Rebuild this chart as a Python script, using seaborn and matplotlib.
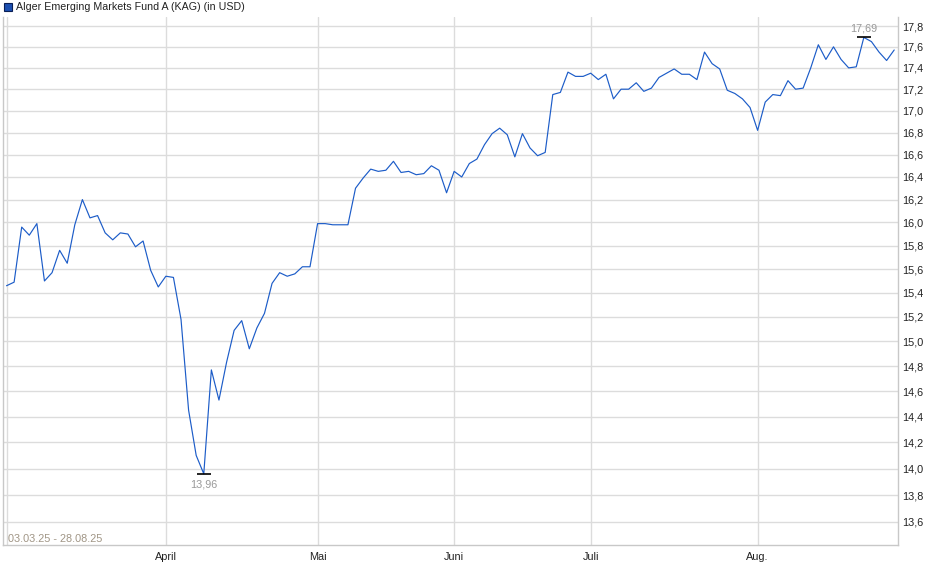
import numpy as np
import pandas as pd
import seaborn as sns
import matplotlib.pyplot as plt
from matplotlib.patches import Rectangle
from matplotlib.ticker import FixedLocator, NullLocator

sns.set_style('white')
plt.rcParams['font.family'] = ['Liberation Sans', 'DejaVu Sans']

fund_name = 'Alger Emerging Markets Fund A (KAG) (in USD)'
date_range = '03.03.25 - 28.08.25'

# daily prices (USD), 03.03.25 - 28.08.25
prices = [
    15.46, 15.49, 15.96, 15.89, 15.99, 15.50, 15.57, 15.76, 15.65, 15.98,
    16.20, 16.04, 16.06, 15.91, 15.85, 15.91, 15.90, 15.79, 15.84, 15.59,
    15.45, 15.54, 15.53, 15.18, 14.45, 14.10, 13.96, 14.77, 14.53, 14.83,
    15.09, 15.17, 14.94, 15.11, 15.23, 15.48, 15.57, 15.54, 15.56, 15.62,
    15.62, 15.99, 15.99, 15.98, 15.98, 15.98, 16.30, 16.39, 16.47, 16.45,
    16.46, 16.54, 16.44, 16.45, 16.42, 16.43, 16.50, 16.46, 16.26, 16.45,
    16.40, 16.52, 16.56, 16.69, 16.79, 16.84, 16.78, 16.58, 16.79, 16.66,
    16.59, 16.62, 17.15, 17.17, 17.36, 17.32, 17.32, 17.35, 17.29, 17.34,
    17.11, 17.20, 17.20, 17.26, 17.18, 17.21, 17.31, 17.35, 17.39, 17.34,
    17.34, 17.29, 17.55, 17.44, 17.39, 17.19, 17.16, 17.11, 17.03, 16.82,
    17.08, 17.15, 17.14, 17.28, 17.20, 17.21, 17.40, 17.62, 17.48, 17.60,
    17.48, 17.40, 17.41, 17.69, 17.65, 17.55, 17.47, 17.57,
]

# first trading day of each month (index into prices)
month_idx = [0, 21, 41, 59, 77, 99]
month_labels = ['', 'April', 'Mai', 'Juni', 'Juli', 'Aug.']

y_ticks = [13.6, 13.8, 14.0, 14.2, 14.4, 14.6, 14.8, 15.0, 15.2, 15.4, 15.6,
           15.8, 16.0, 16.2, 16.4, 16.6, 16.8, 17.0, 17.2, 17.4, 17.6, 17.8]

df = pd.DataFrame({'idx': range(len(prices)), 'price': prices})

fig = plt.figure(figsize=(9.4, 5.79), dpi=100)
ax = fig.add_axes([0.0029, 0.0587, 0.9524, 0.9119])

sns.lineplot(data=df, x='idx', y='price', ax=ax, color='#1c5cc8', linewidth=0.85)

ax.set_yscale('log')
ax.set_ylim(13.431, 17.887)
ax.set_xlim(-0.5, 117.5)

ax.yaxis.set_major_locator(FixedLocator(y_ticks))
ax.yaxis.set_minor_locator(NullLocator())
ax.set_yticklabels([f'{v:.1f}'.replace('.', ',') for v in y_ticks])
ax.yaxis.tick_right()
ax.set_xticks(month_idx)
ax.set_xticklabels(month_labels)
ax.set_xlabel('')
ax.set_ylabel('')

ax.grid(True, color='#dcdcdc', linewidth=1.0)
ax.tick_params(axis='y', length=0, pad=3, labelsize=7.8, labelcolor='#222222')
ax.tick_params(axis='x', length=3, width=0.8, color='#bbbbbb', pad=2,
               labelsize=7.8, labelcolor='#222222')

ax.spines['top'].set_visible(False)
for s in ['left', 'right', 'bottom']:
    ax.spines[s].set_color('#c8c8c8')
    ax.spines[s].set_linewidth(1.0)

# min / max markers
i_min = int(np.argmin(prices))
i_max = int(np.argmax(prices))
for i, off, va in [(i_min, -4, 'top'), (i_max, 3, 'bottom')]:
    ax.plot(i, prices[i], marker='_', markersize=10, mew=1.2, color='black')
    ax.annotate(f'{prices[i]:.2f}'.replace('.', ','), (i, prices[i]),
                xytext=(0, off), textcoords='offset points', ha='center', va=va,
                color='#999999', fontsize=7.8)

ax.text(0.006, 0.012, date_range, transform=ax.transAxes, ha='left',
        va='center', fontsize=7.8, color='#a09585')

# legend header
fig.patches.append(Rectangle((4 / 940, 1 - 10.5 / 579), 8 / 940, 8 / 579,
                             transform=fig.transFigure, facecolor='#1c4fb0',
                             edgecolor='#0a1f55', linewidth=0.8))
fig.text(16 / 940, 1 - 6.5 / 579, fund_name, ha='left', va='center',
         fontsize=7.7, color='#222222')

fig.savefig('out.png', dpi=100)
